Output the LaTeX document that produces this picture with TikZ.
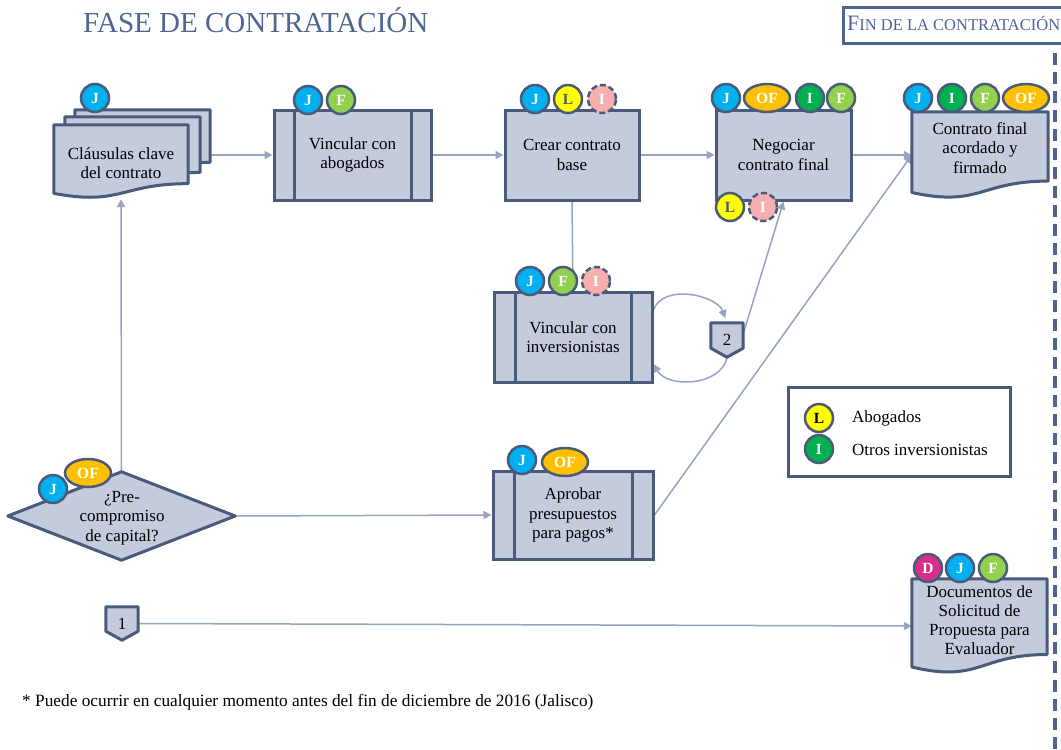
\documentclass[tikz,border=0pt]{standalone}
\usepackage{fontspec}
\setmainfont{Liberation Serif}
\usetikzlibrary{calc,shapes.geometric,arrows.meta}

\definecolor{bd}{HTML}{4A5A7A}
\definecolor{boxfill}{HTML}{C4CBDC}
\definecolor{lk}{HTML}{96A3C1}
\definecolor{ttl}{HTML}{4E6592}
\definecolor{cJ}{HTML}{00B0F0}
\definecolor{cF}{HTML}{92D050}
\definecolor{cL}{HTML}{FFFF00}
\definecolor{cI}{HTML}{00B050}
\definecolor{cOF}{HTML}{FFC000}
\definecolor{cD}{HTML}{D62E8A}
\definecolor{pinkI}{HTML}{F6AFAE}

\pgfdeclarelayer{links}
\pgfdeclarelayer{sheets}
\pgfsetlayers{links,sheets,main}

% document outline with a wavy lower edge, drawn around an invisible node
\newcommand\docoutline[1]{%
  \begin{pgfonlayer}{sheets}
  \filldraw[sheet] (#1.north west) -- (#1.north east)
    -- ($(#1.north east)!0.802!(#1.south east)$)
    .. controls ($(#1.north)!0.802!(#1.south)$) and ($(#1.north)!1.107!(#1.south)$)
    .. ($(#1.north west)!0.934!(#1.south west)$) -- cycle;
  \end{pgfonlayer}}

% off-page reference marker (pentagon pointing down)
\newcommand\tagoutline[1]{%
  \begin{pgfonlayer}{sheets}
  \filldraw[sheet] (#1.north west) -- (#1.north east) -- ([yshift=9pt]#1.south east)
    -- (#1.south) -- ([yshift=9pt]#1.south west) -- cycle;
  \end{pgfonlayer}}

\begin{document}
\begin{tikzpicture}[x=1pt,y=-1pt,
  txt/.style={font=\fontsize{17}{19.5}\selectfont, align=center, text=black},
  box/.style={rectangle, draw=bd, fill=boxfill, line width=3pt, inner sep=0pt, txt},
  predef/.style={box, path picture={
      \draw[bd, line width=3pt]
        ([xshift=#1]path picture bounding box.north west) -- ([xshift=#1]path picture bounding box.south west)
        ([xshift=-#1]path picture bounding box.north east) -- ([xshift=-#1]path picture bounding box.south east);}},
  shell/.style={rectangle, draw=none, inner sep=0pt},
  sheet/.style={draw=bd, fill=boxfill, line width=3pt, line join=round},
  badge/.style={circle, draw=bd, line width=2.5pt, minimum size=28pt, inner sep=0pt,
      font=\fontsize{15.5}{15.5}\selectfont\bfseries, text=white},
  oval/.style={badge, ellipse, minimum width=46pt, minimum height=28pt},
  faint/.style={badge, fill=pinkI, dash pattern=on 6pt off 3pt},
  link/.style={draw=lk, line width=1.5pt, -{Triangle[width=8pt,length=8pt]}},
  plain/.style={draw=lk, line width=1.5pt},
  divider/.style={draw=ttl, line width=4pt, dash pattern=on 12pt off 7pt}
]
\useasboundingbox (0,0) rectangle (1061,750);
\begin{pgfonlayer}{links}
  \fill[white] (0,0) rectangle (1061,750);
\end{pgfonlayer}

% heading and end-of-phase marker
\node[anchor=base west, inner sep=0pt, text=ttl, font=\fontsize{29}{29}\selectfont] (title) at (83,32) {FASE DE CONTRATACIÓN};
\node[rectangle, draw=ttl, line width=2.5pt, fill=white, anchor=north west, minimum width=240pt, minimum height=36pt] (fin) at (842,6) {};
\node[anchor=base west, inner sep=0pt, text=ttl] (fin-t) at (847,30)
  {{\fontsize{22}{22}\selectfont F}{\fontsize{16.5}{17}\selectfont IN DE LA CONTRATACIÓN}};
\draw[divider] (1055,53) -- (1055,750);

% stacked contract clauses
\node[shell, minimum width=135pt, minimum height=65pt] (cl3) at (142.5,142.5) {};
\docoutline{cl3}
\node[shell, minimum width=135pt, minimum height=69pt] (cl2) at (132.5,151.5) {};
\docoutline{cl2}
\node[shell, minimum width=134pt, minimum height=73pt] (cl1) at (121,161.5) {};
\docoutline{cl1}
\node[txt] (cl1-t) at (121,163) {Cláusulas clave\\del contrato};

% process steps
\node[predef=20pt, minimum width=157pt, minimum height=90pt] (vab) at (352.5,155) {Vincular con\\abogados};
\node[box, minimum width=134pt, minimum height=90pt] (crear) at (572,155) {Crear contrato\\base};
\node[box, minimum width=135pt, minimum height=90pt] (neg) at (783.5,155) {Negociar\\contrato final};
\node[predef=21pt, minimum width=158pt, minimum height=90pt] (vinv) at (573,337) {Vincular con\\inversionistas};
\node[predef=21pt, minimum width=160pt, minimum height=88pt] (apr) at (573,515) {Aprobar\\presupuestos\\para pagos*};

% signed contract
\node[shell, minimum width=136pt, minimum height=86pt] (cfin) at (980,155) {};
\docoutline{cfin}
\node[txt] (cfin-t) at (980,148) {Contrato final\\acordado y\\firmado};

% request documents
\node[shell, minimum width=135pt, minimum height=94pt] (sol) at (979.5,626) {};
\docoutline{sol}
\node[txt, font=\fontsize{17}{18.8}\selectfont] (sol-t) at (979.5,620) {Documentos de\\Solicitud de\\Propuesta para\\Evaluador};

% decision
\node[shell, minimum width=227pt, minimum height=88pt] (dec) at (121.5,516) {};
\begin{pgfonlayer}{sheets}
  \filldraw[sheet] (dec.west) -- (dec.north) -- (dec.east) -- (dec.south) -- cycle;
\end{pgfonlayer}
\node[txt] (dec-t) at (122,518) {¿Pre-\\compromiso\\de capital?};

% off-page markers
\node[shell, minimum width=32pt, minimum height=34pt, txt] (m2) at (727,340) {2};
\tagoutline{m2}
\node[shell, minimum width=32pt, minimum height=33pt, txt] (m1) at (122,623.5) {1};
\tagoutline{m1}

% legend
\node[rectangle, draw=bd, line width=3pt, fill=white, minimum width=222pt, minimum height=89pt] (leg) at (899,432) {};
\node[badge, fill=cL, text=black] (leg-l) at (819,418) {L};
\node[badge, fill=cI] (leg-i) at (819,449) {I};
\node[txt, anchor=west, inner sep=0pt] (leg-lt) at (852,418) {Abogados};
\node[txt, anchor=west, inner sep=0pt] (leg-it) at (852,450) {Otros inversionistas};

% footnote
\node[anchor=base west, inner sep=0pt, font=\fontsize{17.3}{17.3}\selectfont] (note) at (22,706)
  {* Puede ocurrir en cualquier momento antes del fin de diciembre de 2016 (Jalisco)};

% role badges
\node[badge, fill=cJ] (cl-j) at (95,98) {J};
\node[badge, fill=cJ] (vab-j) at (308,100) {J};
\node[badge, fill=cF] (vab-f) at (341,100) {F};
\node[badge, fill=cJ] (crear-j) at (535,99) {J};
\node[badge, fill=cL, text=bd] (crear-l) at (568,99) {L};
\node[faint] (crear-i) at (602,99) {I};
\node[badge, fill=cJ] (neg-j) at (726,98) {J};
\node[oval, fill=cOF] (neg-of) at (767,98) {OF};
\node[badge, fill=cI] (neg-i) at (810,98) {I};
\node[badge, fill=cF] (neg-f) at (841,98) {F};
\node[badge, fill=cL, text=bd] (neg-l) at (730,207) {L};
\node[faint] (neg-i2) at (763,207) {I};
\node[badge, fill=cJ] (cfin-j) at (918,98) {J};
\node[badge, fill=cI] (cfin-i) at (952,98) {I};
\node[badge, fill=cF] (cfin-f) at (985,98) {F};
\node[oval, fill=cOF] (cfin-of) at (1026,98) {OF};
\node[badge, fill=cJ] (vinv-j) at (530,281) {J};
\node[badge, fill=cF] (vinv-f) at (563,281) {F};
\node[faint] (vinv-i) at (596,281) {I};
\node[badge, fill=cJ] (apr-j) at (522,460) {J};
\node[oval, fill=cOF] (apr-of) at (565,462) {OF};
\node[oval, fill=cOF] (dec-of) at (88,473) {OF};
\node[badge, fill=cJ] (dec-j) at (53,489) {J};
\node[badge, fill=cD] (sol-d) at (928,568) {D};
\node[badge, fill=cJ] (sol-j) at (960,568) {J};
\node[badge, fill=cF] (sol-f) at (993,568) {F};

% connectors
\begin{pgfonlayer}{links}
  \draw[link] (cl3.east |- vab.west) -- (vab.west);
  \draw[link] (vab.east) -- (crear.west);
  \draw[link] (crear.east) -- (neg.west);
  \draw[link] (neg.east) -- (cfin.west);
  \draw[plain] (crear.south) -- (vinv.north);
  \draw[link] (dec.north) -- ([yshift=-1pt]cl1.south);
  \draw[link] (dec.east) -- (apr.west);
  \draw[link] (apr.east) -- (cfin.west);
  \draw[link, shorten >=5pt] ([yshift=27pt]vinv.east) to[out=70,in=110] (m2.north);
  \draw[link] (m2.south) to[out=-100,in=-60] ([yshift=-27pt]vinv.east);
  \draw[link] ([yshift=6pt]m2.east) -- (neg.south);
  \draw[link] (m1.east) -- (sol.west);
\end{pgfonlayer}
\end{tikzpicture}
\end{document}
